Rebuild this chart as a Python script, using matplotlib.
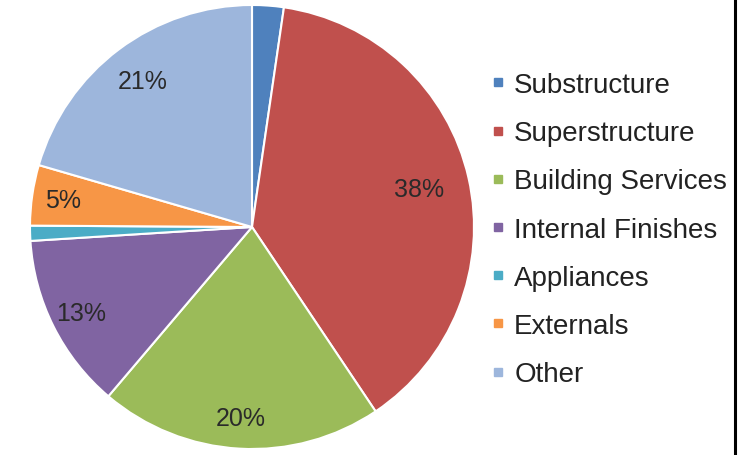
import matplotlib.pyplot as plt
from matplotlib.lines import Line2D
import numpy as np

categories = ['Substructure', 'Superstructure', 'Building Services',
              'Internal Finishes', 'Appliances', 'Externals', 'Other']
shares = [2.3, 38.3, 20.6, 12.8, 1.1, 4.4, 20.5]
pct_labels = ['', '38%', '20%', '13%', '', '5%', '21%']
colors = ['#4F81BD', '#C0504D', '#9BBB59', '#8064A2', '#4BACC6', '#F79646', '#9DB6DC']

plt.rcParams['font.family'] = ['Liberation Sans', 'DejaVu Sans']

fig = plt.figure(figsize=(7.49, 4.56), dpi=100)
ax = fig.add_axes([30 / 749, 6 / 456, 444 / 749, 444 / 456])

wedges, _ = ax.pie(shares, colors=colors, startangle=90, counterclock=False,
                   radius=1, wedgeprops=dict(edgecolor='white', linewidth=1.5))
ax.set_xlim(-1, 1)
ax.set_ylim(-1, 1)
ax.set_aspect('equal')

# label distance per slice (38% sits a bit further in)
dist = [0.8, 0.77, 0.86, 0.86, 0.8, 0.86, 0.82]
for w, lab, r in zip(wedges, pct_labels, dist):
    if not lab:
        continue
    ang = np.deg2rad((w.theta1 + w.theta2) / 2)
    ax.text(r * np.cos(ang), r * np.sin(ang), lab, ha='center', va='center',
            fontsize=18, color='#2a2a2a')

handles = [Line2D([], [], marker='s', linestyle='', markersize=6,
                  markerfacecolor=c, markeredgecolor=c) for c in colors]
fig.legend(handles, categories, loc='upper left', bbox_to_anchor=(492 / 749, 1 - 73 / 456),
           frameon=False, fontsize=20, handlelength=0.45, handletextpad=0.35,
           labelspacing=0.8, borderaxespad=0, borderpad=0, labelcolor='#222222')

# border line on the right edge of the source image
fig.add_artist(Line2D([735 / 749, 735 / 749], [0, 1], color='black', linewidth=2.2,
                      transform=fig.transFigure))

fig.savefig('out.png', dpi=100)
